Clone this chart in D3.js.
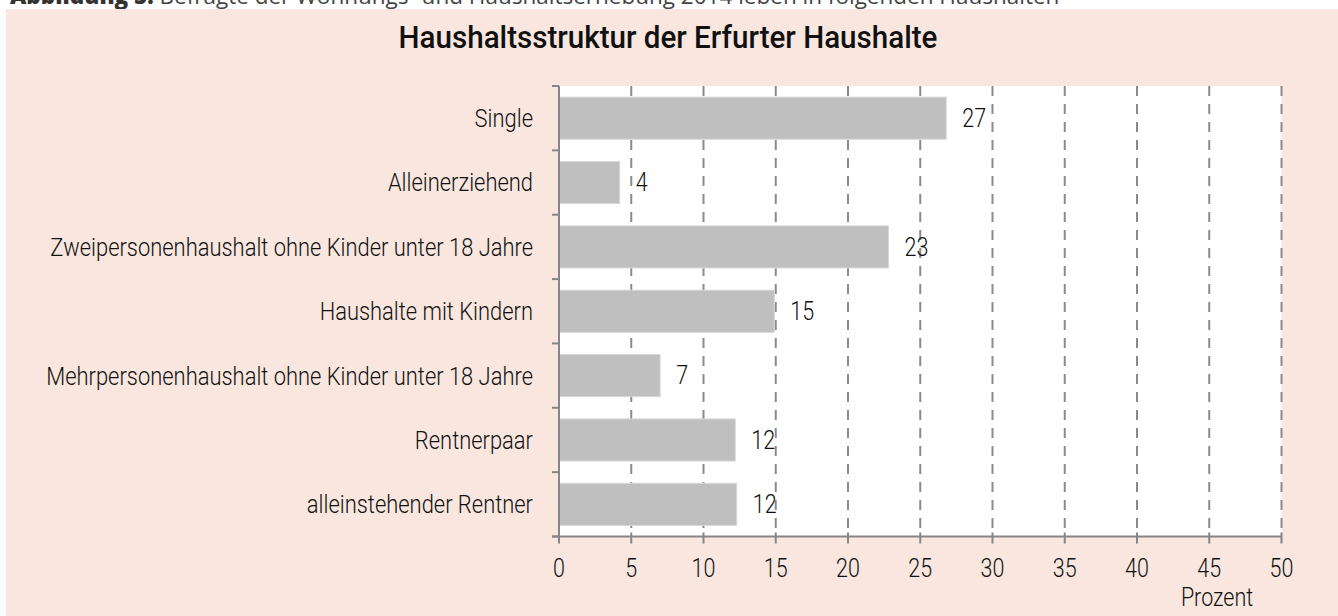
<!DOCTYPE html>
<html>
<head>
<meta charset="utf-8">
<title>Haushaltsstruktur der Erfurter Haushalte</title>
<script src="https://cdn.jsdelivr.net/npm/d3@7"></script>
<style>
    body { margin: 0; padding: 0; background: #ffffff; overflow: hidden; }
    svg text { font-family: Roboto, "Liberation Sans", Arial, sans-serif; font-weight: 300; fill: #111; }
    svg text.caption { font-family: "Open Sans", "Noto Sans", sans-serif; font-weight: 400; fill: #444; }
    svg text.title { font-family: Roboto, "Liberation Sans", sans-serif; font-weight: 500; fill: #111; }
</style>
</head>
<body>
<div id="chart"></div>
<script>
// data
var categories = ["Single", "Alleinerziehend", "Zweipersonenhaushalt ohne Kinder unter 18 Jahre",
    "Haushalte mit Kindern", "Mehrpersonenhaushalt ohne Kinder unter 18 Jahre",
    "Rentnerpaar", "alleinstehender Rentner"];
var values = [26.8, 4.2, 22.8, 14.9, 7.0, 12.2, 12.3];
var valueLabels = ["27", "4", "23", "15", "7", "12", "12"];
var xTicks = [0, 5, 10, 15, 20, 25, 30, 35, 40, 45, 50];

var width = 1338, height = 616;
var plot = {left: 559, right: 1281.5, top: 86, bottom: 536.5};
var narrow = 0.86;   // horizontal squeeze to imitate the condensed face

var svg = d3.select("#chart").append("svg")
    .attr("width", width)
    .attr("height", height);

// condensed text helper
function ntext(g, px, py, size, anchor, str, cls) {
    return g.append("text")
        .attr("class", cls || null)
        .attr("transform", "translate(" + px + "," + py + ") scale(" + narrow + ",1)")
        .attr("text-anchor", anchor)
        .attr("dy", "0.35em")
        .style("font-size", size + "px")
        .text(str);
}

// caption (cut off at top edge, like the source)
var cap = svg.append("text")
    .attr("class", "caption")
    .attr("x", 10)
    .attr("y", 4)
    .style("font-size", "22.5px");
cap.append("tspan").style("font-weight", 800).style("fill", "#333").text("Abbildung 5:");
cap.append("tspan").text(" Befragte der Wohnungs- und Haushaltserhebung 2014 leben in folgenden Haushalten");

// panel
svg.append("rect")
    .attr("x", 6).attr("y", 9)
    .attr("width", width - 6).attr("height", height - 9)
    .attr("fill", "#f9e7df");

svg.append("rect")
    .attr("x", plot.left).attr("y", plot.top)
    .attr("width", plot.right - plot.left).attr("height", plot.bottom - plot.top)
    .attr("fill", "#ffffff");

svg.append("text")
    .attr("class", "title")
    .attr("transform", "translate(668,48) scale(0.94,1)")
    .attr("text-anchor", "middle")
    .style("font-size", "31.5px")
    .text("Haushaltsstruktur der Erfurter Haushalte");

var x = d3.scaleLinear().domain([0, 50]).range([plot.left, plot.right]);
var y = d3.scaleBand().domain(categories).range([plot.top, plot.bottom]).paddingInner(0.345).paddingOuter(0.1725);

// dashed grid
svg.append("g")
    .selectAll("line")
    .data(xTicks.slice(1))
    .enter()
    .append("line")
    .attr("x1", function(d){ return x(d); })
    .attr("x2", function(d){ return x(d); })
    .attr("y1", plot.top)
    .attr("y2", plot.bottom)
    .attr("stroke", "#8a8a8a")
    .attr("stroke-width", 2)
    .attr("stroke-dasharray", "10,8");

// bars
svg.append("g")
    .selectAll("rect")
    .data(values)
    .enter()
    .append("rect")
    .attr("x", x(0))
    .attr("y", function(d, i){ return y(categories[i]); })
    .attr("width", function(d){ return x(d) - x(0); })
    .attr("height", y.bandwidth())
    .attr("fill", "#bfbfbf")
    .attr("stroke", "#d9d9d9")
    .attr("stroke-width", 1);

// value labels
var vl = svg.append("g");
values.forEach(function(d, i){
    ntext(vl, x(d) + 16, y(categories[i]) + y.bandwidth() / 2, 25, "start", valueLabels[i]);
});

// y axis: line + ticks on band boundaries
var bounds = d3.range(categories.length + 1).map(function(i){
    return plot.top + i * (plot.bottom - plot.top) / categories.length;
});
svg.append("line")
    .attr("x1", plot.left).attr("x2", plot.left)
    .attr("y1", plot.top).attr("y2", plot.bottom)
    .attr("stroke", "#868686").attr("stroke-width", 2);
svg.append("g")
    .selectAll("line")
    .data(bounds)
    .enter()
    .append("line")
    .attr("x1", plot.left - 7).attr("x2", plot.left)
    .attr("y1", function(d){ return d; }).attr("y2", function(d){ return d; })
    .attr("stroke", "#868686").attr("stroke-width", 2);

var cl = svg.append("g");
categories.forEach(function(c){
    ntext(cl, plot.left - 26, y(c) + y.bandwidth() / 2, 25.5, "end", c);
});

// x axis
svg.append("line")
    .attr("x1", plot.left - 7).attr("x2", plot.right)
    .attr("y1", plot.bottom).attr("y2", plot.bottom)
    .attr("stroke", "#868686").attr("stroke-width", 2);
svg.append("g")
    .selectAll("line")
    .data(xTicks)
    .enter()
    .append("line")
    .attr("x1", function(d){ return x(d); }).attr("x2", function(d){ return x(d); })
    .attr("y1", plot.bottom - 4).attr("y2", plot.bottom + 7)
    .attr("stroke", "#868686").attr("stroke-width", 2);
var tl = svg.append("g");
xTicks.forEach(function(t){
    ntext(tl, x(t), 568, 25, "middle", String(t));
});

ntext(svg, 1217, 597, 25, "middle", "Prozent");
</script>
</body>
</html>
